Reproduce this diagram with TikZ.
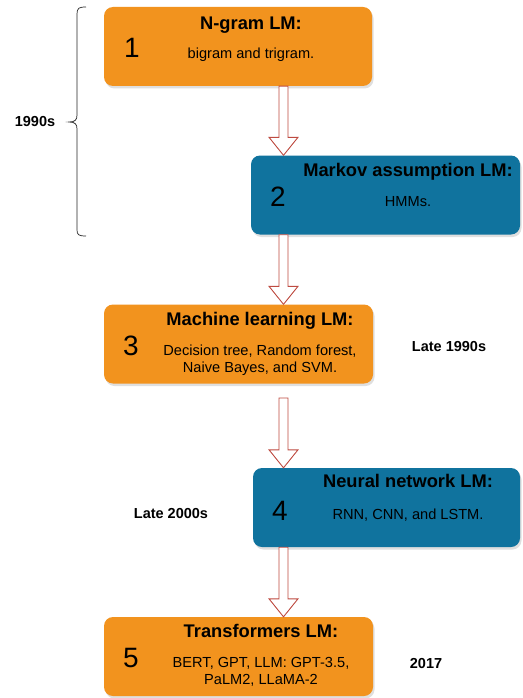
\documentclass[tikz,border=0pt]{standalone}
\usepackage{fontspec}
\setmainfont{Liberation Sans}
\usetikzlibrary{shadows,calc}
\definecolor{boxorange}{HTML}{F2931E}
\definecolor{boxblue}{HTML}{10739E}
\definecolor{arrowred}{RGB}{190,75,65}
\tikzset{
  box/.style={rounded corners=9pt, inner sep=0pt, minimum height=79pt,
    drop shadow={opacity=0.25, shadow xshift=1.5pt, shadow yshift=-2.5pt}},
  obox/.style={box, fill=boxorange},
  bbox/.style={box, fill=boxblue},
  title/.style={font=\fontsize{18.3}{20}\selectfont\bfseries, inner sep=0pt, anchor=base},
  body/.style={font=\fontsize{14.6}{17}\selectfont, align=center, inner sep=0pt},
  bodyb/.style={body, anchor=base},
  num/.style={font=\fontsize{28}{30}\selectfont, inner sep=0pt, anchor=base},
  side/.style={font=\fontsize{14.5}{16}\selectfont\bfseries, inner sep=0pt, anchor=base},
  arrowline/.style={draw=arrowred, fill=white, line width=0.9pt, line join=miter},
}
\newcommand\blockarrow[2]{%
  \path[arrowline] let \p1=(#1), \p2=(#2) in
    (\x1-4.5pt,\y1) -- (\x1+4.5pt,\y1) -- (\x1+4.5pt,\y2+18pt) --
    (\x1+14.5pt,\y2+18pt) -- (\x1,\y2) -- (\x1-14.5pt,\y2+18pt) --
    (\x1-4.5pt,\y2+18pt) -- cycle;}
\begin{document}
\begin{tikzpicture}[x=1pt,y=-1pt]
\useasboundingbox (0,0) rectangle (522,698);
\fill[white] (0,0) rectangle (522,698);

% boxes
\node[obox, minimum width=268pt] (b1) at (238,46.5) {};
\node[bbox, minimum width=269pt] (b2) at (385.5,195) {};
\node[obox, minimum width=269pt] (b3) at (238.5,344) {};
\node[bbox, minimum width=267pt] (b4) at (386.5,507.5) {};
\node[obox, minimum width=269pt] (b5) at (238.5,656.5) {};

% box 1
\node[title] (t1) at (251,29.5) {N-gram LM:};
\node[num] (n1) at (132,57.5) {1};
\node[bodyb] (d1) at (251,58.5) {bigram and trigram.};
% box 2
\node[title] (t2) at (408,176) {Markov assumption LM:};
\node[num] (n2) at (278,206) {2};
\node[bodyb] (d2) at (408,206) {HMMs.};
% box 3
\node[title] (t3) at (260,325) {Machine learning LM:};
\node[num] (n3) at (131,355.5) {3};
\node[body] (d3) at (260,360) {Decision tree, Random forest,\\Naive Bayes, and SVM.};
% box 4
\node[title] (t4) at (408,487.5) {Neural network LM:};
\node[num] (n4) at (280,520) {4};
\node[bodyb] (d4) at (408,519) {RNN, CNN, and LSTM.};
% box 5
\node[title] (t5) at (261,637) {Transformers LM:};
\node[num] (n5) at (131,667) {5};
\node[body] (d5) at (261,671.5) {BERT, GPT, LLM: GPT-3.5,\\PaLM2, LLaMA-2};

% side labels
\node[side] (s1) at (35,127) {1990s};
\node[side] (s2) at (449,351) {Late 1990s};
\node[side] (s3) at (171,518.5) {Late 2000s};
\node[side] (s4) at (426,668) {2017};

% arrows
\coordinate (ax) at (283.5,0);
\coordinate (a3s) at (283.5,398);
\blockarrow{b1.south -| ax}{b2.north -| ax}
\blockarrow{b2.south -| ax}{b3.north -| ax}
\blockarrow{a3s}{b4.north -| ax}
\blockarrow{b4.south -| ax}{b5.north -| ax}

% brace
\coordinate (bt) at (86,7);
\coordinate (bb) at (86,236);
\coordinate (btip) at (69,122);
\draw[line width=0.7pt, black!85] (bt) .. controls (79,7) and (77,8) .. (77,14)
  -- (77,115) .. controls (77,120) and (75,122) .. (btip)
  .. controls (75,122) and (77,124) .. (77,129)
  -- (77,230) .. controls (77,235) and (79,236) .. (bb);
\end{tikzpicture}
\end{document}
